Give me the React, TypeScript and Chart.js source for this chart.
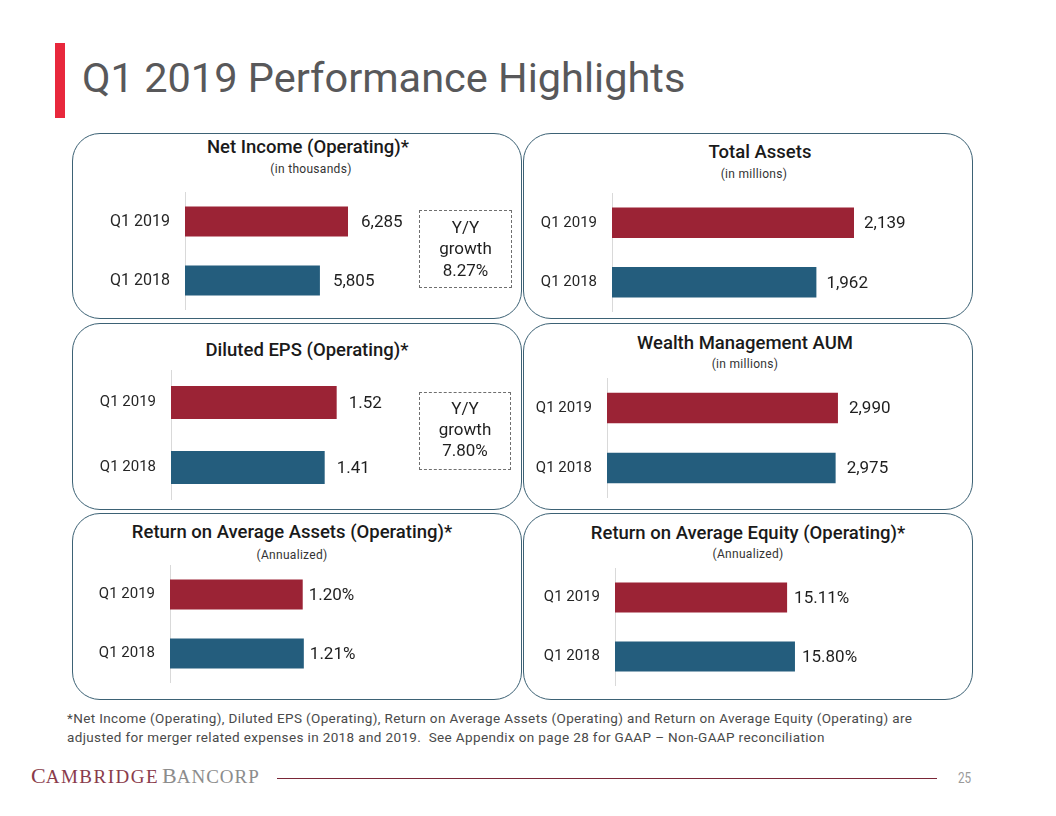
import React, { useEffect, useRef } from "react";
import { Chart, registerables } from "chart.js";
Chart.register(...registerables);

// ---------- data ----------
const categories = ["Q1 2019", "Q1 2018"];
const netIncome = [6285, 5805];
const totalAssets = [2139, 1962];
const dilutedEps = [1.52, 1.41];
const wealthAum = [2990, 2975];
const roaa = [1.2, 1.21];
const roae = [15.11, 15.8];
const barColors = ["#9B2335", "#245D7D"];
const growthNetIncome = ["Y/Y", "growth", "8.27%"];
const growthEps = ["Y/Y", "growth", "7.80%"];

const fmtThousands = (v: number) => v.toLocaleString("en-US");
const fmt2 = (v: number) => v.toFixed(2);
const fmtPct = (v: number) => v.toFixed(2) + "%";

const FONT = "Roboto, 'Noto Sans', sans-serif";

type BarChartProps = {
  values: number[];
  min: number;
  ppu: number;
  axisX: number;
  top: number;
  height: number;
  plotW: number;
  catFont: number;
  valFont: number;
  offset: number;
  fmt: (v: number) => string;
};

const AXIS_W = 95;

function BarChart(p: BarChartProps) {
  const ref = useRef<HTMLCanvasElement>(null);
  useEffect(() => {
    const labelPlugin = {
      id: "valueLabels",
      afterDatasetsDraw(chart: any) {
        const ctx = chart.ctx;
        const meta = chart.getDatasetMeta(0);
        ctx.save();
        ctx.font = `${p.valFont}px ${FONT}`;
        ctx.fillStyle = "#1f1f1f";
        ctx.textBaseline = "middle";
        ctx.textAlign = "left";
        meta.data.forEach((el: any, i: number) => {
          ctx.fillText(p.fmt(p.values[i]), el.x + p.offset, el.y + 1);
        });
        ctx.restore();
      },
    };
    const chart = new Chart(ref.current as HTMLCanvasElement, {
      type: "bar",
      data: {
        labels: categories,
        datasets: [
          {
            data: p.values,
            backgroundColor: barColors,
            borderWidth: 0,
            barPercentage: 0.51,
            categoryPercentage: 1,
          },
        ],
      },
      options: {
        indexAxis: "y",
        responsive: false,
        animation: false,
        layout: { padding: 0 },
        plugins: { legend: { display: false }, tooltip: { enabled: false } },
        scales: {
          x: { display: false, min: p.min, max: p.min + p.plotW / p.ppu },
          y: {
            grid: { display: false, drawTicks: false },
            border: { display: true, color: "#d9d9d9", width: 1 },
            ticks: {
              padding: 15,
              color: "#262626",
              font: { family: FONT, size: p.catFont },
            },
            afterFit: (s: any) => {
              s.width = AXIS_W;
              s.paddingTop = 0;
              s.paddingBottom = 0;
            },
          },
        },
      } as any,
      plugins: [labelPlugin],
    });
    return () => chart.destroy();
  }, []);
  const w = AXIS_W + p.plotW;
  return (
    <canvas
      ref={ref}
      width={w}
      height={p.height}
      style={{ position: "absolute", left: p.axisX - AXIS_W, top: p.top, width: w, height: p.height }}
    />
  );
}

function Panel(props: { left: number; top: number; width: number; height: number }) {
  return (
    <div
      style={{
        position: "absolute",
        left: props.left,
        top: props.top,
        width: props.width,
        height: props.height,
        border: "1.2px solid #3d6275",
        borderRadius: 28,
        boxSizing: "border-box",
        background: "transparent",
      }}
    />
  );
}

function CText(props: { cx: number; cy: number; size: number; weight?: number; color?: string; children: any; ls?: number }) {
  return (
    <div
      style={{
        position: "absolute",
        left: props.cx - 250,
        width: 500,
        top: props.cy - props.size / 2,
        height: props.size,
        lineHeight: props.size + "px",
        fontSize: props.size,
        fontFamily: FONT,
        fontWeight: props.weight || 400,
        color: props.color || "#1a1a1a",
        textAlign: "center",
        whiteSpace: "nowrap",
        letterSpacing: props.ls || 0,
      }}
    >
      {props.children}
    </div>
  );
}

function GrowthBox(props: { left: number; top: number; width: number; height: number; lines: string[]; lineYs: number[] }) {
  return (
    <>
      <div
        style={{
          position: "absolute",
          left: props.left,
          top: props.top,
          width: props.width,
          height: props.height,
          border: "1px dashed #6f6f6f",
          boxSizing: "border-box",
        }}
      />
      {props.lines.map((t, i) => (
        <CText key={i} cx={props.left + props.width / 2} cy={props.lineYs[i]} size={17} color="#1f1f1f">
          {t}
        </CText>
      ))}
    </>
  );
}

export default function App() {
  return (
    <div
      style={{
        position: "absolute",
        left: 0,
        top: 0,
        width: 1056,
        height: 816,
        background: "#ffffff",
        overflow: "hidden",
        fontFamily: FONT,
      }}
    >
      {/* header */}
      <div style={{ position: "absolute", left: 55, top: 43, width: 10, height: 75, background: "#e8283c" }} />
      <div
        style={{
          position: "absolute",
          left: 82,
          top: 57,
          fontSize: 41.5,
          lineHeight: "42px",
          color: "#58585a",
          fontFamily: FONT,
          whiteSpace: "nowrap",
        }}
      >
        Q1 2019 Performance Highlights
      </div>

      {/* panels */}
      <Panel left={72} top={133} width={450} height={186} />
      <Panel left={523} top={133} width={450} height={186} />
      <Panel left={72} top={323} width={450} height={187} />
      <Panel left={523} top={323} width={450} height={187} />
      <Panel left={72} top={513} width={450} height={187} />
      <Panel left={523} top={513} width={450} height={187} />

      {/* Panel 1: Net income */}
      <CText cx={308} cy={147.5} size={18.5} weight={500}>Net Income (Operating)*</CText>
      <CText cx={311} cy={168.5} size={12} color="#333" ls={0.3}>(in thousands)</CText>
      <BarChart values={netIncome} min={3500} ppu={0.05853} axisX={185} top={192} height={118} plotW={230} catFont={16} valFont={17} offset={13} fmt={fmtThousands} />
      <GrowthBox left={419} top={210} width={93} height={78} lines={growthNetIncome} lineYs={[227, 248.5, 270]} />

      {/* Panel 2: Total assets */}
      <CText cx={760} cy={152} size={18.5} weight={500}>Total Assets</CText>
      <CText cx={754} cy={174} size={12} color="#333" ls={0.3}>(in millions)</CText>
      <BarChart values={totalAssets} min={1000} ppu={0.21247} axisX={612} top={193} height={119} plotW={330} catFont={15} valFont={17} offset={10} fmt={fmtThousands} />

      {/* Panel 3: Diluted EPS */}
      <CText cx={307} cy={350.5} size={18.5} weight={500}>Diluted EPS (Operating)*</CText>
      <BarChart values={dilutedEps} min={0} ppu={109} axisX={171} top={370} height={130} plotW={230} catFont={15} valFont={17} offset={12} fmt={fmt2} />
      <GrowthBox left={419} top={392} width={92} height={78} lines={growthEps} lineYs={[408.5, 429, 450]} />

      {/* Panel 4: Wealth Management AUM */}
      <CText cx={745} cy={343} size={18.5} weight={500}>Wealth Management AUM</CText>
      <CText cx={745} cy={364} size={12} color="#333" ls={0.3}>(in millions)</CText>
      <BarChart values={wealthAum} min={1500} ppu={0.155} axisX={607} top={378} height={120} plotW={330} catFont={15} valFont={17} offset={11} fmt={fmtThousands} />

      {/* Panel 5: ROAA */}
      <CText cx={292} cy={532} size={18.5} weight={500}>Return on Average Assets (Operating)*</CText>
      <CText cx={292} cy={554.5} size={12} color="#333" ls={0.3}>(Annualized)</CText>
      <BarChart values={roaa} min={0} ppu={110.6} axisX={170} top={565} height={118} plotW={230} catFont={15} valFont={17} offset={6} fmt={fmtPct} />

      {/* Panel 6: ROAE */}
      <CText cx={748} cy={533} size={18.5} weight={500}>Return on Average Equity (Operating)*</CText>
      <CText cx={748} cy={554} size={12} color="#333" ls={0.3}>(Annualized)</CText>
      <BarChart values={roae} min={0} ppu={11.39} axisX={615} top={568} height={118} plotW={330} catFont={15} valFont={17} offset={7} fmt={fmtPct} />

      {/* footnote */}
      <div
        style={{
          position: "absolute",
          left: 67,
          top: 709,
          width: 960,
          fontSize: 13.5,
          letterSpacing: 0.37,
          lineHeight: "18.5px",
          color: "#4a4a4a",
          fontFamily: FONT,
          whiteSpace: "nowrap",
        }}
      >
        *Net Income (Operating), Diluted EPS (Operating), Return on Average Assets (Operating) and Return on Average Equity (Operating) are
        <br />
        adjusted for merger related expenses in 2018 and 2019.&nbsp; See Appendix on page 28 for GAAP – Non-GAAP reconciliation
      </div>

      {/* footer logo */}
      <div
        style={{
          position: "absolute",
          left: 31,
          top: 765,
          fontFamily: "'Liberation Serif', 'DejaVu Serif', serif",
          fontSize: 22,
          lineHeight: "22px",
          whiteSpace: "nowrap",
        }}
      >
        <span style={{ color: "#8a3b4b" }}>
          C<span style={{ fontSize: 19, letterSpacing: 1.5 }}>AMBRIDGE</span>
        </span>
        <span style={{ color: "#8c8c8c", marginLeft: 3 }}>
          B<span style={{ fontSize: 19, letterSpacing: 1 }}>ANCORP</span>
        </span>
      </div>
      <div style={{ position: "absolute", left: 277, top: 778, width: 660, height: 1, background: "#7a2637" }} />
      <div
        style={{
          position: "absolute",
          left: 958,
          top: 770,
          fontSize: 15,
          lineHeight: "16px",
          color: "#9a9a9a",
          fontFamily: FONT,
          transform: "scaleX(0.78)",
          transformOrigin: "left center",
        }}
      >
        25
      </div>
    </div>
  );
}
